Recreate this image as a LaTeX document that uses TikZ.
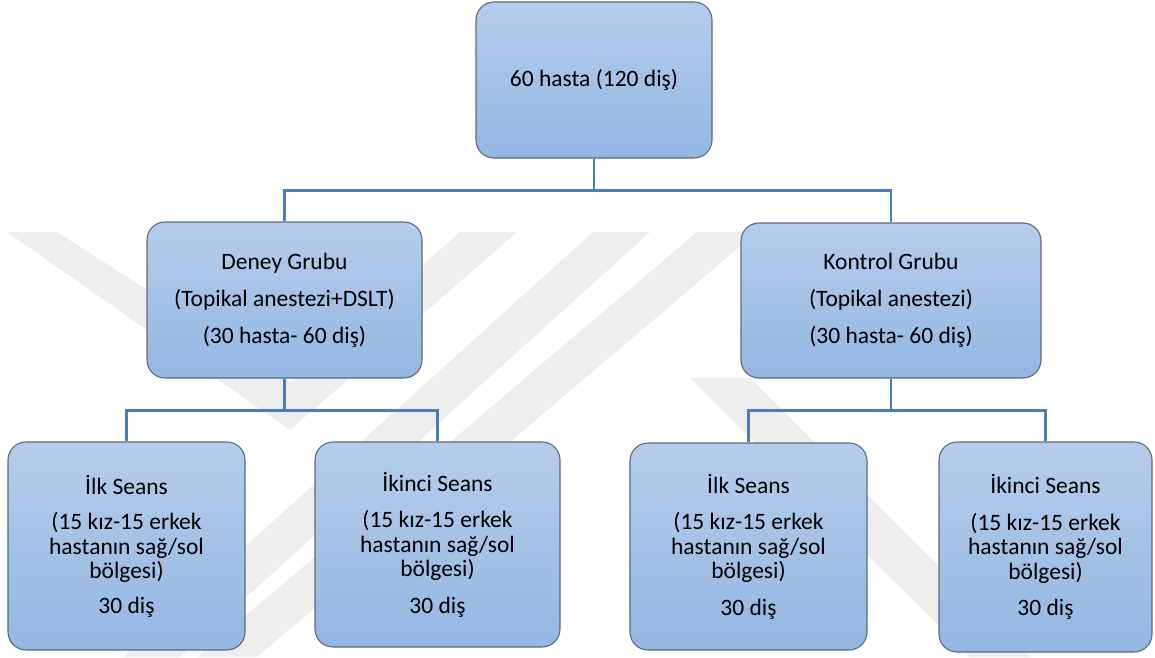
\documentclass[tikz,border=0pt]{standalone}
\usepackage{fontspec}
\setmainfont{Carlito}
\definecolor{boxtop}{RGB}{181,205,235}
\definecolor{boxbot}{RGB}{147,183,227}
\definecolor{boxborder}{RGB}{95,105,120}
\definecolor{connblue}{RGB}{74,126,187}
\definecolor{wmgray}{RGB}{238,238,238}
\tikzset{
  box/.style={draw=boxborder, line width=1.1pt, rounded corners=18pt,
    top color=boxtop, bottom color=boxbot, align=center, text=black, inner sep=0pt},
  midfont/.style={font=\fontsize{23.5}{37}\selectfont},
  lowfont/.style={font=\fontsize{23.5}{24.5}\selectfont},
  conn/.style={draw=connblue, line width=2.6pt},
  wm/.style={fill=wmgray, draw=none}
}
\begin{document}
\begin{tikzpicture}[x=1pt,y=-1pt]
\useasboundingbox (0,0) rectangle (1155,657);
% watermark (faint background shapes)
\begin{scope}
\clip (0,232) rectangle (1155,657);
\fill[wm] (7,232) -- (57,232) -- (290,382) -- (460,232) -- (517,232) -- (290,430) -- cycle;
\fill[wm] (593,232) -- (650,232) -- (180,657) -- (123,657) -- cycle;
\fill[wm] (697,232) -- (757,232) -- (257,657) -- (197,657) -- cycle;
\fill[wm] (690,378) -- (750,378) -- (1030,657) -- (970,657) -- cycle;
\end{scope}
% boxes
\node[box, minimum width=236pt, minimum height=156pt, font=\fontsize{23.5}{28}\selectfont] (top) at (594,80) {60 hasta (120 diş)};
\node[box, midfont, minimum width=275pt, minimum height=156pt] (deney) at (284.5,300) {Deney Grubu\\(Topikal anestezi+DSLT)\\(30 hasta- 60 diş)};
\node[box, midfont, minimum width=300pt, minimum height=155pt] (kontrol) at (891,300.5) {Kontrol Grubu\\(Topikal anestezi)\\(30 hasta- 60 diş)};
\node[box, lowfont, minimum width=237pt, minimum height=208pt] (b1) at (126.5,546) {İlk Seans\\[11pt](15 kız-15 erkek\\hastanın sağ/sol\\bölgesi)\\[10pt]30 diş};
\node[box, lowfont, minimum width=245pt, minimum height=205pt] (b2) at (437.5,544.5) {İkinci Seans\\[12pt](15 kız-15 erkek\\hastanın sağ/sol\\bölgesi)\\[12pt]30 diş};
\node[box, lowfont, minimum width=237pt, minimum height=207pt] (b3) at (748.5,546.5) {İlk Seans\\[12pt](15 kız-15 erkek\\hastanın sağ/sol\\bölgesi)\\[12pt]30 diş};
\node[box, lowfont, minimum width=213pt, minimum height=210pt] (b4) at (1045.5,547) {İkinci Seans\\[12pt](15 kız-15 erkek\\hastanın sağ/sol\\bölgesi)\\[12pt]30 diş};
% connectors
\draw[conn] (top.south) -- ++(0,32) -| (deney.north);
\draw[conn] (top.south) -- ++(0,32) -| (kontrol.north);
\draw[conn] (deney.south) -- ++(0,32) -| (b1.north);
\draw[conn] (deney.south) -- ++(0,32) -| (b2.north);
\draw[conn] (kontrol.south) -- ++(0,32) -| (b3.north);
\draw[conn] (kontrol.south) -- ++(0,32) -| (b4.north);
\end{tikzpicture}
\end{document}
